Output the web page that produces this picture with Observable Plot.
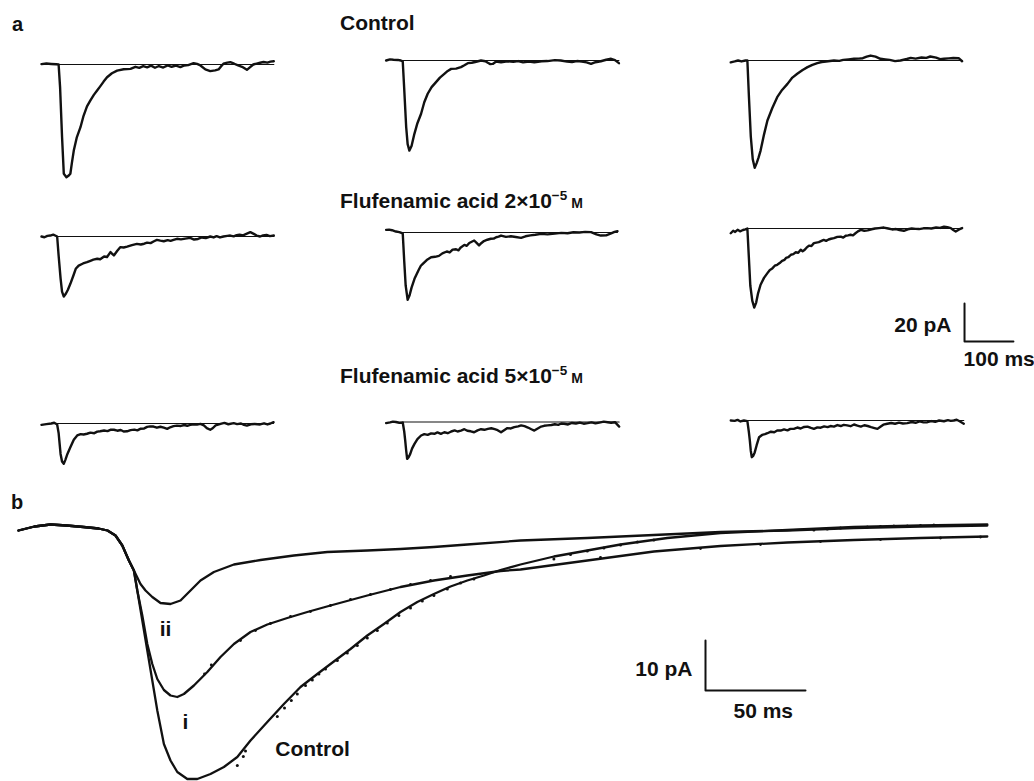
<!DOCTYPE html>
<html>
<head>
<meta charset="utf-8">
<script src="https://cdn.jsdelivr.net/npm/d3@7"></script>
<script src="https://cdn.jsdelivr.net/npm/@observablehq/plot@0.6"></script>
<style>
html, body { margin: 0; padding: 0; background: #fff; }
#fig { position: relative; width: 1034px; height: 781px; overflow: hidden; }
#pa, #pb, #ov { position: absolute; left: 0; }
#pa { top: 0; }
#pb { top: 480px; }
#ov { top: 0; pointer-events: none; }
</style>
</head>
<body>
<div id="fig">
  <div id="pa"></div>
  <div id="pb"></div>
  <svg id="ov" width="1034" height="781" font-family="'Liberation Sans', Arial, Helvetica, sans-serif" font-weight="bold" fill="#111">
    <text x="12" y="31" font-size="20">a</text>
    <text x="340" y="30" font-size="21">Control</text>
    <text x="340" y="208" font-size="21">Flufenamic acid 2×10<tspan dy="-8" font-size="13.5">−5</tspan><tspan dy="8" font-size="14"> M</tspan></text>
    <text x="340" y="383" font-size="21">Flufenamic acid 5×10<tspan dy="-8" font-size="13.5">−5</tspan><tspan dy="8" font-size="14"> M</tspan></text>
    <text x="11" y="509" font-size="20">b</text>
  </svg>
</div>
<script>
// ---------------- DATA (time in ms, current in pA) ----------------
const cells = ["cell 1", "cell 2", "cell 3"];
const conditions = ["Control", "Flufenamic acid 2×10⁻⁵ M", "Flufenamic acid 5×10⁻⁵ M"];

// panel a, Control row
const ctl1 = [[0,0.2],[10,0.5],[20,0.3],[30,0.1],[35,0],[38,-12],[42,-38],[45.6,-57.5],[51,-59.3],[55,-58.6],[59,-57.5],[62,-52],[66,-45.3],[72,-38.5],[79.7,-33],[86,-27],[93,-22],[100,-18.9],[107,-16],[113.7,-13.7],[120,-11.5],[127,-9],[134,-6.7],[144,-4.6],[154.6,-3.2],[168,-2.5],[182,-2.3],[192,-1.2],[200,-1.8],[208,-0.9],[216,-1.5],[224,-0.6],[232,-1.7],[240,-0.8],[249,-1.6],[258,-0.5],[266,-1.2],[275,-0.6],[284,-1.4],[292,-0.5],[300,-0.3],[311,0.7],[318,0.3],[325,-0.5],[335,-2.6],[345,-3.5],[355,-3.1],[362,-2.6],[367,-1],[372,0.4],[380,1],[386,1.2],[394,0.4],[402,-0.5],[410,-1.2],[420,-2.8],[426,-1.5],[433,0],[440,0.5],[447,0.9],[454,1.3],[462,1],[468,1.5],[475,1.7]];
const ctl2 = [[0,0],[8,0.6],[15,0.4],[24,0.3],[30,0],[34,-0.5],[37,-15],[41,-35],[44,-44],[47.6,-47.4],[52,-45],[57.8,-38.6],[64,-33],[71.5,-28],[78,-22],[85,-17.5],[93,-14],[102,-11.4],[110,-9],[119,-7],[126,-5.5],[133,-4.4],[143,-4.3],[153,-3.5],[160,-2.5],[167,-1.4],[175,-1.2],[182,-0.8],[194,0],[203,-0.4],[208,-1.2],[213,-1.9],[218,-1.8],[225,-0.5],[235,-0.9],[248,-0.4],[260,-0.7],[270,-0.3],[280,-1],[292,-0.5],[303,-0.9],[318,-0.4],[330,-0.3],[345,0.2],[357,0],[370,-0.6],[380,-0.8],[390,-0.3],[400,-0.5],[410,-1],[419,-1.8],[428,-0.9],[439,-0.4],[450,0.4],[460,0.9],[468,0.2],[476,-1.4]];
const ctl3 = [[0,-1],[8,-0.5],[15,0],[22,-0.5],[30,0],[34,0],[37,-18],[41,-40],[45,-52],[49,-56.5],[53,-54],[57,-51],[61,-47.4],[68,-39],[75,-31.6],[85,-25],[95,-19.3],[105,-15.5],[116,-12.3],[126,-9],[136,-7],[147,-5],[157,-3.5],[167,-2.3],[177,-1.4],[186,-0.8],[195,-0.5],[211,0],[222,-0.2],[230,0.3],[241,0.6],[252,0.9],[262,1],[270,1.2],[278,2],[286,2.6],[296,2],[306,0.9],[316,0.6],[325,0.3],[336,-0.3],[347,0],[360,0.8],[368,1.4],[378,1],[390,1.6],[400,1.4],[408,2.1],[420,1.5],[428,0.7],[436,0.9],[446,1.1],[455,1.3],[466,1.2],[473,-0.4]];

// panel a, flufenamic acid 2e-5 M row
const fa2_1 = [[0,0],[6,-0.4],[12,0.3],[18,0.5],[24,1],[29,0.4],[32,0],[35,-10],[39,-22],[42,-29],[45.6,-31.6],[50,-30],[54,-28],[59,-24.9],[66,-20],[70,-17],[76,-15.3],[85,-14.2],[93,-13.5],[100,-12.8],[106,-12.2],[114,-11.7],[120,-12],[128,-10.5],[134,-10.8],[141,-8.2],[148,-10],[155,-7.5],[161,-5.6],[168,-5.8],[175,-5.3],[185,-4.5],[195,-3.9],[203,-4.2],[210,-3.8],[216,-3.2],[223,-3.5],[230,-2.5],[236,-1.8],[243,-2.2],[250,-2.5],[258,-1.9],[264,-2.3],[270,-1.8],[277,-1.2],[285,-1.5],[294,-1.1],[304,-0.7],[312,-1.6],[320,-1.3],[328,-0.5],[336,-0.8],[345,0],[352,-0.5],[358,0.2],[365,-0.5],[372,0],[380,0.3],[386,0.5],[393,0.1],[399,0.7],[405,1],[412,0.6],[420,1.5],[427,2.3],[434,1.4],[440,0.5],[447,0],[453,0.6],[460,0.8],[467,0.2],[475,0.5]];
const fa2_2 = [[0,1.4],[6,1.5],[12,1.2],[20,0.5],[27,0.2],[34,-0.5],[37,-15],[40,-28],[44,-35.4],[48,-33],[52,-29],[58,-24.4],[66,-20],[71,-17.5],[75,-16.5],[83,-14.5],[92,-13],[100,-12.8],[108,-12.3],[115,-11],[124,-10],[130,-10.5],[136,-9],[143,-8.8],[148,-9.4],[152,-8],[160,-6.5],[165,-7],[170,-5.5],[180,-4.2],[185,-5.5],[190,-6.8],[195,-5.5],[200,-4.5],[207,-3.8],[214,-3.3],[220,-3.2],[225,-2.5],[230,-2.2],[235,-1.6],[245,-2.3],[255,-2],[265,-2.4],[276,-2.8],[285,-2],[295,-1.5],[305,-1.2],[317,-0.7],[330,-1],[345,-0.6],[358,-0.2],[371,-0.4],[383,0.1],[395,0],[407,0.3],[419,0.2],[430,-1],[439,-1.6],[450,-1.5],[460,-0.5],[467,0.3],[473,0.7]];
const fa2_3 = [[0,-2.5],[5,-1.2],[9,-1.8],[14,-0.7],[19,-1.5],[25,-0.8],[30,-0.5],[34,0],[37,-15],[40,-30],[44,-38],[48,-41.6],[52,-39],[56,-34],[61,-29.6],[68,-26],[75,-23.5],[80,-21.8],[85,-21],[90,-19.6],[95,-19.1],[100,-18.2],[105,-17],[110,-16.5],[113,-15.5],[118,-15.1],[123,-13.8],[128,-13.5],[133,-12.5],[138,-12.8],[143,-11.2],[147,-12],[150,-11.5],[155,-10.1],[160,-9],[165,-9.2],[170,-7.7],[180,-7.2],[190,-6],[195,-6.5],[200,-5.8],[205,-5.4],[211,-5.1],[218,-4.4],[225,-4.3],[230,-4.8],[235,-3.8],[240,-3.6],[245,-3.3],[250,-3.6],[255,-2.5],[260,-1.5],[266,-0.7],[273,-1.2],[280,-1],[288,-0.4],[295,0],[303,0.2],[313,0.5],[322,0],[330,-0.5],[338,-0.3],[345,-0.8],[354,-1.2],[362,-0.4],[370,0],[378,-0.2],[385,-0.3],[394,0.1],[402,0.2],[410,0],[420,0.5],[428,0.3],[436,1],[443,0.7],[450,0.2],[455,-0.8],[460,-1.6],[467,-0.5],[473,0.2]];

// panel a, flufenamic acid 5e-5 M row
const fa5_1 = [[0,-0.7],[10,-0.3],[20,0],[26,0.4],[32,-0.5],[35,-5],[39,-16],[42,-20],[45.5,-21.2],[49,-19],[53,-16],[59,-12.5],[66,-8.5],[73,-6.3],[80,-5.6],[86,-5.8],[93,-5.4],[100,-4.8],[108,-5.1],[114,-4.3],[120,-4.1],[128,-3.7],[135,-4],[142,-3.2],[148,-3.3],[155,-3.8],[162,-3.4],[168,-4.2],[175,-4.1],[182,-3.5],[190,-3.2],[196,-3.6],[202,-2.8],[210,-2.6],[216,-1.8],[222,-1.5],[229,-1.6],[236,-2.2],[243,-1.7],[250,-2.2],[257,-2.8],[263,-2],[270,-1.4],[277,-1.1],[285,-1.3],[292,-0.8],[298,-1.2],[304,-0.7],[312,-0.4],[318,-0.6],[325,-0.2],[332,-1],[338,-2.4],[345,-3.3],[350,-2.5],[356,-1],[366,-0.2],[374,0.3],[382,-0.4],[393,0.2],[400,-0.3],[408,0],[414,-0.7],[420,-1.1],[428,-0.4],[436,-0.3],[447,-0.5],[455,0.1],[462,-0.5],[468,0],[474.5,0.7]];
const fa5_2 = [[0,-0.6],[8,-0.2],[14,0.2],[20,0],[27,-0.4],[34,-0.3],[37,-5],[39,-9.7],[41,-15],[43,-19.4],[46,-18.5],[49,-17],[53,-14],[58,-11.5],[64,-9],[71.5,-7.1],[78,-6.4],[85,-6.8],[92,-6],[98.7,-6.2],[105,-5.5],[112,-6.2],[119,-5.4],[126,-5.9],[133,-5],[140,-4.4],[146,-5],[153,-4.5],[160,-3.8],[166,-4.6],[173,-4.9],[180,-5.4],[187,-4.4],[194,-3.8],[201,-4.1],[208,-3.6],[215,-3.3],[222,-3.8],[228,-4.3],[235,-5.4],[242,-4.2],[248,-3.2],[255,-3.4],[262,-2.7],[270,-2.3],[276,-1.8],[283,-2.2],[290,-2.9],[297,-3.8],[303,-4.5],[310,-3.4],[317,-2.4],[323,-2],[330,-1.8],[338,-1.6],[345,-1.2],[352,-1.5],[358,-0.8],[364,-0.9],[372,-1.3],[380,-0.5],[388,-0.8],[396,-0.3],[404,-0.9],[412,-0.6],[420,-0.2],[428,-0.7],[436,-0.3],[445,0.2],[453,-0.1],[460,-0.4],[468,-0.1],[476.5,-2.4]];
const fa5_3 = [[0,0],[8,-0.2],[14,0.3],[20,-0.5],[27,0],[34,-0.3],[37,-6],[39,-10.5],[41,-16],[43,-19.3],[46,-18.6],[49,-16.8],[53,-13],[58,-8.8],[64,-7.6],[70,-7.2],[75,-6.7],[82,-5.9],[89,-6.2],[95,-5.3],[102,-5.3],[109,-4.7],[116,-5.2],[122,-4.4],[129,-4.4],[136,-3.7],[143,-4.2],[150,-3.4],[157,-3.2],[164,-3.9],[170,-4.4],[177,-3.6],[184,-3.8],[191,-3.1],[198,-3.5],[204,-2.9],[211,-3.2],[218,-2.4],[225,-2.9],[231,-2.3],[238,-2.6],[245,-3],[252,-2.1],[259,-2.7],[266,-3.2],[273,-2.5],[280,-2.9],[287,-3.5],[294,-4],[300,-4.4],[306,-3.3],[312,-2.2],[320,-1.7],[328,-1.3],[336,-1.7],[344,-1.1],[352,-1.6],[361,-1.4],[370,-0.8],[378,-1.2],[386,-0.5],[394,-1],[402,-0.9],[410,-0.3],[418,-0.7],[426,0],[436,-0.4],[444,0.2],[450,-0.2],[456,0],[462,0.4],[468,-0.4],[476.5,-1.7]];

// onset time of the zero-current reference line in each panel-a trace
const onsetA = [[35,34,34],[32,34,34],[32,34,34]];
const scaleBarA = [{ms: 100, pA: 20}];

// panel b: averaged, normalised-time currents
const ctlB = [[0,-0.6],[8,0.2],[16,0.6],[24,0.4],[32.5,0.1],[40,-0.2],[44.5,-0.6],[48.5,-1.6],[51.9,-3.6],[55.2,-6.6],[57.7,-8.6],[59.4,-12.6],[61.9,-18.6],[64.4,-24.6],[66.9,-30.6],[69.4,-36.6],[72.7,-43.3],[76,-46.6],[79.4,-48.9],[84.4,-50.3],[89.4,-50.3],[96,-49.3],[102.7,-47.9],[109.4,-45.9],[116,-42.6],[124.4,-38.9],[132.7,-35.3],[141,-31.9],[149.4,-29.3],[156,-27.3],[166,-24.3],[174.4,-21.6],[182.7,-19.3],[191,-16.9],[199.4,-14.9],[207.7,-13.3],[216,-11.8],[224.4,-10.6],[232.7,-9.6],[241,-8.5],[251,-7.4],[267.7,-5.8],[284.4,-4.6],[301,-3.4],[324.4,-2.1],[351,-1.1],[384.4,-0.5],[417.7,0.1],[451,0.4],[484.4,0.6]];
const iB = [[0,-0.6],[8,0.2],[16,0.6],[24,0.4],[32.5,0.1],[40,-0.2],[44.5,-0.6],[48.5,-1.6],[51.9,-3.6],[55.2,-6.6],[57.7,-8.6],[59.4,-12.6],[61.9,-17.6],[64.4,-23.3],[66.9,-27.3],[69.4,-30.3],[72.7,-32.5],[76,-33.6],[79.4,-33.9],[82.7,-33.3],[87.7,-31.6],[94.4,-28.9],[101,-25.9],[107.7,-23.3],[116,-20.9],[124.4,-19.4],[134.4,-18.1],[144.4,-16.9],[156,-15.6],[174.4,-13.6],[191,-11.9],[207.7,-10.6],[224.4,-9.6],[241,-8.7],[251,-8.4],[284.4,-6.6],[317.7,-4.8],[351,-3.7],[384.4,-3],[417.7,-2.5],[451,-2.1],[484.4,-1.8]];
const iiB = [[0,-0.6],[8,0.2],[16,0.6],[24,0.4],[32.5,0.1],[40,-0.2],[44.5,-0.6],[48.5,-1.6],[51.9,-3.6],[55.2,-6.6],[57.7,-8.6],[61,-11.3],[63.5,-12.6],[66.9,-13.9],[71,-15.1],[76,-15.3],[81,-14.6],[86,-12.6],[91,-10.6],[97.7,-8.9],[107.7,-7.4],[121,-6.5],[137.7,-5.6],[154.4,-4.9],[174.4,-4.6],[191,-4.3],[207.7,-3.9],[224.4,-3.4],[251,-2.6],[284.4,-2.1],[317.7,-1.5],[351,-0.9],[384.4,-0.6],[417.7,-0.1],[451,0.2],[484.4,0.4]];
// dotted fitted curves
const fitCtlB = [[109.4,-47.6],[112.4,-45.8],[113.5,-44.7],[129.4,-37.8],[133,-36.1],[136.4,-34.6],[139.4,-33.3],[143.5,-31.6],[146.9,-30.5],[150.2,-29.3],[153.5,-28.3],[159.4,-26.6],[164.4,-25.1],[169.4,-23.6],[174.4,-22.1],[179.4,-20.6],[184.4,-19.1],[190.2,-17.6],[196,-16.1],[201.9,-14.7],[207.7,-13.6],[214.4,-12.3],[221,-11.1],[227.7,-10.3],[267.7,-6.3],[276,-5.4],[284.4,-4.7],[292.7,-4.1],[301,-3.5],[309.4,-2.9],[317.7,-2.5],[397.7,-0.5],[404.4,-0.3],[411,-0.1],[417.7,0],[424.4,0.1],[431,0.2],[437.7,0.3],[444.4,0.3],[451,0.4],[457.7,0.5]];
const fitIB = [[93,-29.3],[96.4,-27.5],[111,-22.6],[118.5,-20.6],[126,-19.2],[136,-17.8],[146,-16.8],[156,-15.6],[166,-14.4],[176,-13.4],[186,-12.4],[196,-11.4],[206,-10.6],[216,-9.8],[291,-6],[341,-4.2],[371,-3.4],[401,-2.8],[431,-2.4],[461,-2.1],[481,-1.9]];
const curveLabelsB = ["Control", "i", "ii"];
const scaleBarB = [{ms: 50, pA: 10}];

// ---------------- RENDERING ----------------
const FONT = "'Liberation Sans', Arial, Helvetica, sans-serif";
const ink = "#111";
const X = d => d[0], Y = d => d[1];

// panel a
const gridA = [[ctl1, ctl2, ctl3], [fa2_1, fa2_2, fa2_3], [fa5_1, fa5_2, fa5_3]];
const rowShift = [[3, -1, -1], [-5, -9, -13], [2, 0.5, -1]]; // small vertical offsets of each sweep in the original layout
const marksA = [];
gridA.forEach((row, ri) => row.forEach((tr, ci) => {
  const fxv = cells[ci], fyv = conditions[ri], dy = rowShift[ri][ci];
  const zero = [[onsetA[ri][ci], 0], [tr[tr.length - 1][0], 0]];
  marksA.push(Plot.line(zero, {x: X, y: Y, fx: () => fxv, fy: () => fyv, dy, stroke: ink, strokeWidth: 1.1}));
  marksA.push(Plot.line(tr, {x: X, y: Y, fx: () => fxv, fy: () => fyv, dy, stroke: ink, strokeWidth: 2.4, strokeLinejoin: "round", strokeLinecap: "round"}));
}));
const tA = 478, yA = -52.6;
const barA = scaleBarA.flatMap(s => [[tA, yA + s.pA], [tA, yA], [tA + s.ms, yA]]);
const fxS = () => cells[2], fyS = () => conditions[1];
marksA.push(Plot.line(barA, {x: X, y: Y, fx: fxS, fy: fyS, stroke: ink, strokeWidth: 2}));
marksA.push(Plot.text(scaleBarA, {x: () => tA, y: () => yA, fx: fxS, fy: fyS, text: d => `${d.pA} pA`, dx: -13, dy: -9, textAnchor: "end", lineAnchor: "bottom", fontSize: 21, fontWeight: "bold", fill: ink}));
marksA.push(Plot.text(scaleBarA, {x: () => tA, y: () => yA, fx: fxS, fy: fyS, text: d => `${d.ms} ms`, dx: -1, dy: 25, textAnchor: "start", lineAnchor: "bottom", fontSize: 21, fontWeight: "bold", fill: ink}));

const plotA = Plot.plot({
  width: 1034, height: 480,
  marginTop: 0, marginRight: 0, marginBottom: 0, marginLeft: 0,
  x: {domain: [0, 480], axis: null},
  y: {domain: [-62, 8], axis: null},
  fx: {domain: cells, range: [41, 965], paddingInner: 0.3188, paddingOuter: 0, round: false, axis: null},
  fy: {domain: conditions, range: [45.8, 538.8], paddingInner: 0.2611, paddingOuter: 0, round: false, axis: null},
  style: {background: "none", fontFamily: FONT, overflow: "visible"},
  marks: marksA
});
document.getElementById("pa").append(plotA);

// panel b
const tracesB = {"Control": ctlB, "i": iB, "ii": iiB};
const labelOffset = {"Control": [88, -23.5, "start"], "i": [8, 31.5, "middle"], "ii": [-5, 32, "middle"]};
const tB = 343.5, yB = -32.6;
const barB = scaleBarB.flatMap(s => [[tB, yB + s.pA], [tB, yB], [tB + s.ms, yB]]);
const marksB = [
  ...curveLabelsB.map(k => Plot.line(tracesB[k], {x: X, y: Y, stroke: ink, strokeWidth: 2.3, strokeLinejoin: "round", strokeLinecap: "round"})),
  Plot.dot(fitCtlB, {x: X, y: Y, r: 1.5, fill: ink, stroke: null}),
  Plot.dot(fitIB, {x: X, y: Y, r: 1.4, fill: ink, stroke: null}),
  ...curveLabelsB.map(k => {
    const m = d3.least(tracesB[k], d => d[1]);
    const [dx, dy, anchor] = labelOffset[k];
    return Plot.text([m], {x: X, y: Y, text: () => k, dx, dy, textAnchor: anchor, lineAnchor: "bottom", fontSize: 21, fontWeight: "bold", fill: ink});
  }),
  Plot.line(barB, {x: X, y: Y, stroke: ink, strokeWidth: 2}),
  Plot.text(scaleBarB, {x: () => tB, y: () => yB, text: d => `${d.pA} pA`, dx: -13, dy: -15, textAnchor: "end", lineAnchor: "bottom", fontSize: 21, fontWeight: "bold", fill: ink}),
  Plot.text(scaleBarB, {x: () => tB, y: () => yB, text: d => `${d.ms} ms`, dx: 28, dy: 27, textAnchor: "start", lineAnchor: "bottom", fontSize: 21, fontWeight: "bold", fill: ink})
];
const plotB = Plot.plot({
  width: 1034, height: 301,
  marginTop: 0, marginRight: 16, marginBottom: 0, marginLeft: 18,
  x: {domain: [0, 500], axis: null},
  y: {domain: [-50.8, 9.4], axis: null},
  style: {background: "none", fontFamily: FONT, overflow: "visible"},
  marks: marksB
});
document.getElementById("pb").append(plotB);
</script>
</body>
</html>
